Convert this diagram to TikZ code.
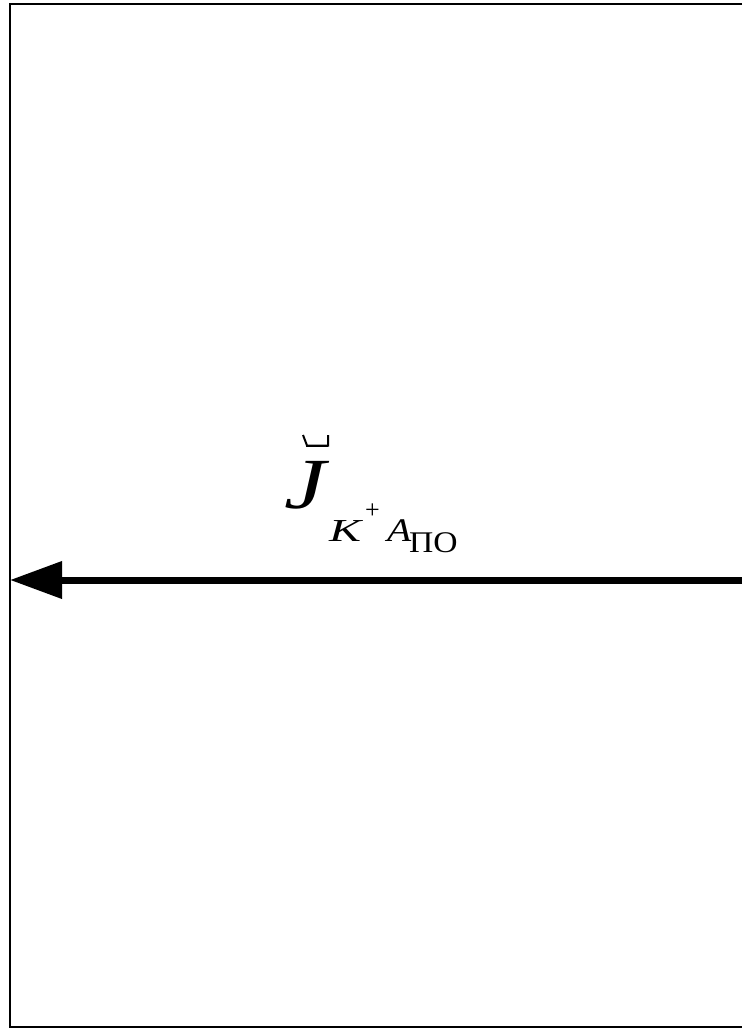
\documentclass[tikz,border=0pt]{standalone}
\usepackage{fontspec}
\setmainfont{Liberation Serif}
\usetikzlibrary{arrows.meta,positioning}

\begin{document}
\begin{tikzpicture}[x=1pt,y=-1pt,
  lbl/.style={inner sep=0pt,anchor=base west}]
\useasboundingbox (0,0) rectangle (742,1028);
% open frame (no right side)
\draw[line width=1.8pt] (742,4) -- (10,4) -- (10,1027) -- (742,1027);
% flux arrow pointing left
\coordinate (start) at (742,580);
\coordinate (tip) at (10,580);
\draw[line width=7pt,-{Triangle[length=52pt,width=36pt]}] (start) -- (tip);
% label J with subscript K^+ A_PO (glyphs are stretched sideways)
\node[lbl] (J) at (284,508){\scalebox{1.3}[1]{\fontsize{72}{72}\selectfont\itshape J}};
\node[lbl] (K) at (329,541){\scalebox{1.5}[1]{\fontsize{32}{32}\selectfont\itshape K}};
\node[lbl] (plus) at (365,518){\fontsize{26}{26}\selectfont +};
\node[lbl] (A) at (387,541){\scalebox{1.2}[1]{\fontsize{33}{33}\selectfont\itshape A}};
\node[lbl] (PO) at (409,552){\scalebox{1.12}[1]{\fontsize{30}{30}\selectfont ПО}};
% vector accent over J
\draw[line width=2pt] (303,435) -- (307,445.5) -- (328,445.5) -- (328,435);
\draw[line width=1.5pt] (306,446) -- (328,446);
\end{tikzpicture}
\end{document}
